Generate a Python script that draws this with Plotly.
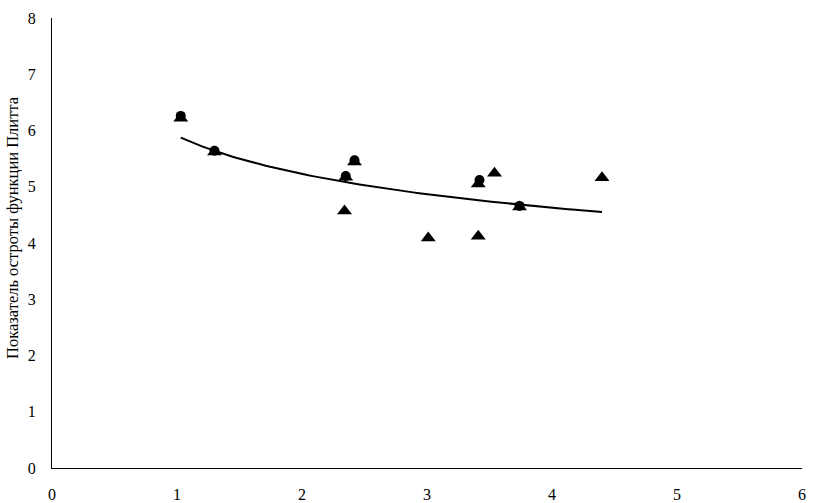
import numpy as np
import plotly.graph_objects as go

# Data
tri_x = [1.03, 1.30, 2.35, 2.42, 2.34, 3.01, 3.41, 3.41, 3.54, 3.74, 4.40]
tri_y = [6.22, 5.62, 5.17, 5.44, 4.57, 4.09, 4.12, 5.05, 5.24, 4.64, 5.16]
circ_x = [1.03, 1.30, 2.35, 2.42, 3.42, 3.74]
circ_y = [6.26, 5.64, 5.19, 5.47, 5.12, 4.66]

x_ticks = [0, 1, 2, 3, 4, 5, 6]
y_ticks = [0, 1, 2, 3, 4, 5, 6, 7, 8]
y_title = "Показатель остроты функции Плитта"

# Power trendline (least squares on logs), as in a spreadsheet trendline
b, ln_a = np.polyfit(np.log(tri_x), np.log(tri_y), 1)
fit_x = np.linspace(min(tri_x), max(tri_x), 100)
fit_y = np.exp(ln_a) * fit_x ** b

font = "Liberation Serif"
tickfont = dict(family=font, size=16, color="black")

fig = go.Figure()
fig.add_trace(go.Scatter(x=fit_x, y=fit_y, mode="lines",
                         line=dict(color="black", width=2), showlegend=False,
                         hoverinfo="skip"))
fig.add_trace(go.Scatter(x=circ_x, y=circ_y, mode="markers",
                         marker=dict(symbol="circle", size=10, color="black"),
                         showlegend=False))
fig.add_trace(go.Scatter(x=tri_x, y=tri_y, mode="markers",
                         marker=dict(symbol="triangle-up", size=13, color="black"),
                         showlegend=False))

W, H = 824, 503
L, R, T, B = 52, 22, 18, 35
plot_w = W - L - R
plot_h = H - T - B

fig.update_layout(
    width=W, height=H,
    margin=dict(l=L, r=R, t=T, b=B),
    paper_bgcolor="white", plot_bgcolor="white",
    font=dict(family=font, size=16, color="black"),
    xaxis=dict(range=[0, 6], tickvals=x_ticks, showgrid=False, zeroline=False,
               showline=True, linecolor="black", linewidth=1, ticks="",
               ticklen=0, tickfont=tickfont, automargin=False,
               ticklabelstandoff=12),
    yaxis=dict(range=[0, 8], tickvals=y_ticks, showgrid=False, zeroline=False,
               showline=True, linecolor="black", linewidth=1, ticks="",
               ticklen=0, tickfont=tickfont, automargin=False,
               ticklabelstandoff=12),
    annotations=[dict(text=y_title,
                      x=(12 - L) / plot_w, y=(H - B - 228) / plot_h,
                      xref="paper", yref="paper",
                      xanchor="center", yanchor="middle",
                      showarrow=False, textangle=-90,
                      font=dict(family=font, size=16.5, color="black"))],
)

fig.write_html("out.html",
               config={"displayModeBar": False},
               post_script="document.body.style.margin='0';"
                           "document.body.style.overflow='hidden';")
